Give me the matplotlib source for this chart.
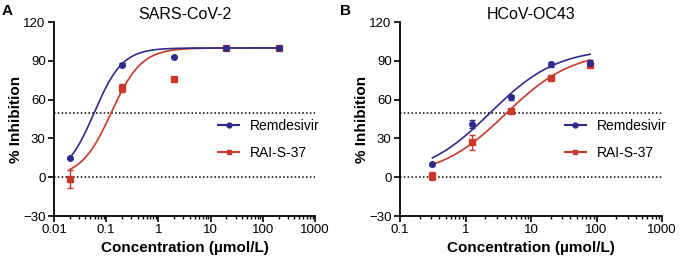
import numpy as np
import matplotlib
matplotlib.use("Agg")
import matplotlib.pyplot as plt
from matplotlib.ticker import FixedLocator, LogLocator, NullFormatter

plt.rcParams['font.family'] = ['Liberation Sans', 'DejaVu Sans']

# --- data ---
conc_a = [0.02, 0.2, 2, 20, 200]
remd_a = [15, 87, 93, 100, 100]
remd_a_err = [0, 1, 0, 0, 0]
rai_a = [-1, 69, 76, 100, 100]
rai_a_err = [7, 3, 0, 1, 0]

conc_b = [0.3125, 1.25, 5, 20, 80]
remd_b = [10, 41, 62, 87.5, 88.5]
remd_b_err = [1, 3, 2, 2, 2]
rai_b = [1, 27, 51.5, 77, 87]
rai_b_err = [3, 6, 1, 1, 1]

# fitted dose-response parameters: bottom, top, IC50, hill slope
fit_remd_a = [0, 100, 0.059, 1.6]
fit_rai_a = [0, 100, 0.125, 1.5]
fit_remd_b = [0, 100, 2.4, 0.85]
fit_rai_b = [0, 98, 4.1, 0.85]

blue = '#2f2b8c'
red = '#c9382a'


def logistic(x, p):
    bottom, top, ic50, hill = p
    return bottom + (top - bottom) / (1 + (ic50 / x) ** hill)


def draw_panel(ax, conc, remd, remd_err, rai, rai_err, fit_r, fit_s, title, xlim):
    xs = np.logspace(np.log10(conc[0]), np.log10(conc[-1]), 300)
    ax.axhline(50, color='black', ls=(0, (1, 1.5)), lw=1.1, zorder=1)
    ax.axhline(0, color='black', ls=(0, (1, 1.5)), lw=1.1, zorder=1)
    ax.plot(xs, logistic(xs, fit_s), color=red, lw=1.2, zorder=2)
    ax.plot(xs, logistic(xs, fit_r), color=blue, lw=1.2, zorder=3)
    ax.errorbar(conc, rai, yerr=rai_err, fmt='s', color=red, ms=4,
                capsize=2, elinewidth=1, capthick=1, zorder=4)
    ax.errorbar(conc, remd, yerr=remd_err, fmt='o', color=blue, ms=4,
                capsize=2, elinewidth=1, capthick=1, zorder=5)
    # legend proxies
    hr, = ax.plot([], [], color=blue, marker='o', ms=3.5, lw=1.5)
    hs, = ax.plot([], [], color=red, marker='s', ms=3.5, lw=1.5)
    ax.legend([hr, hs], ['Remdesivir', 'RAI-S-37'], frameon=False, fontsize=10,
              loc='upper left', bbox_to_anchor=(0.628, 0.50), borderaxespad=0,
              borderpad=0, handlelength=1.55, handletextpad=0.75, labelspacing=0.95)

    ax.set_xscale('log')
    ax.set_xlim(*xlim)
    ax.set_ylim(-30, 120)
    ax.set_yticks([-30, 0, 30, 60, 90, 120])
    major = [10.0 ** k for k in range(int(np.log10(xlim[0])), 4)]
    ax.xaxis.set_major_locator(FixedLocator(major))
    ax.set_xticklabels([f'{m:g}' for m in major])
    ax.xaxis.set_minor_locator(LogLocator(base=10, subs=np.arange(2, 10)))
    ax.xaxis.set_minor_formatter(NullFormatter())
    for s in ['top', 'right']:
        ax.spines[s].set_visible(False)
    for s in ['left', 'bottom']:
        ax.spines[s].set_linewidth(1.3)
    ax.tick_params(which='major', length=4, width=1.2, labelsize=9.5, pad=2)
    ax.tick_params(which='minor', length=2.5, width=1)
    ax.set_title(title, fontsize=11.5, pad=2)
    ax.set_xlabel('Concentration (µmol/L)', fontsize=11, fontweight='bold', labelpad=3)
    ax.set_ylabel('% Inhibition', fontsize=11, fontweight='bold', labelpad=0)


fig = plt.figure(figsize=(6.81, 2.60), dpi=100)
ax_a = fig.add_axes([0.0793, 0.169, 0.3833, 0.746])
ax_b = fig.add_axes([0.5874, 0.169, 0.3847, 0.746])

draw_panel(ax_a, conc_a, remd_a, remd_a_err, rai_a, rai_a_err,
           fit_remd_a, fit_rai_a, 'SARS-CoV-2', (0.01, 1000))
draw_panel(ax_b, conc_b, remd_b, remd_b_err, rai_b, rai_b_err,
           fit_remd_b, fit_rai_b, 'HCoV-OC43', (0.1, 1000))

fig.text(0.003, 0.985, 'A', fontsize=11, fontweight='bold', va='top')
fig.text(0.499, 0.985, 'B', fontsize=11, fontweight='bold', va='top')

fig.savefig('out.png', dpi=100)
